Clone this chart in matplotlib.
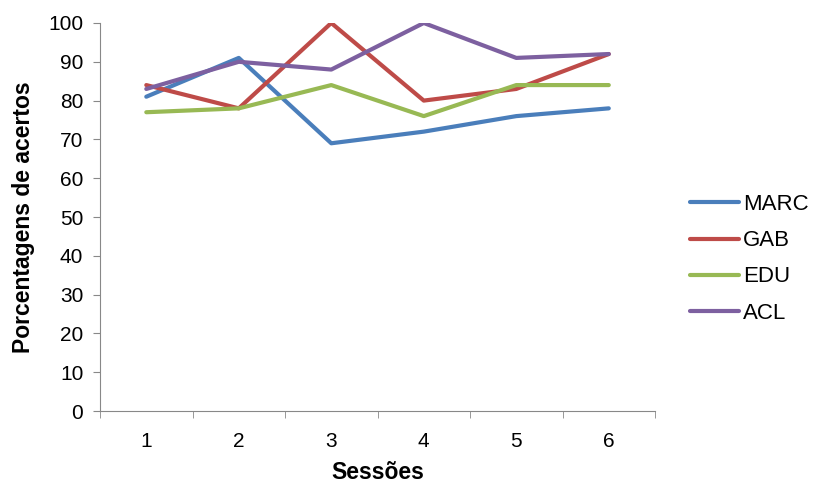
import matplotlib
matplotlib.use("Agg")
import matplotlib.pyplot as plt
from matplotlib.ticker import FixedLocator

plt.rcParams['font.family'] = ['Liberation Sans', 'DejaVu Sans']

sessions = [1, 2, 3, 4, 5, 6]
series_names = ["MARC", "GAB", "EDU", "ACL"]
marc = [81, 91, 69, 72, 76, 78]
gab = [84, 78, 100, 80, 83, 92]
edu = [77, 78, 84, 76, 84, 84]
acl = [83, 90, 88, 100, 91, 92]
colors = ["#4A7EBB", "#BE4B48", "#98B954", "#7D60A0"]
yticks = list(range(0, 101, 10))

fig = plt.figure(figsize=(8.14, 4.84), dpi=100)
ax = fig.add_axes([0.1229, 0.1508, 0.6818, 0.8017])

for name, vals, c in zip(series_names, [marc, gab, edu, acl], colors):
    ax.plot(sessions, vals, color=c, lw=3, label=name, solid_capstyle='round')

ax.set_xlim(0.5, 6.5)
ax.set_ylim(0, 100)
ax.set_yticks(yticks)
ax.set_xticks(sessions)
ax.xaxis.set_minor_locator(FixedLocator([0.5 + i for i in range(7)]))
ax.tick_params(axis='x', which='major', length=0, pad=15, labelsize=15)
ax.tick_params(axis='x', which='minor', length=5, color='#888888')
ax.tick_params(axis='y', length=5, color='#888888', labelsize=15, pad=7)

for s in ['top', 'right']:
    ax.spines[s].set_visible(False)
for s in ['left', 'bottom']:
    ax.spines[s].set_color('#888888')

ax.set_ylabel("Porcentagens de acertos", fontsize=16.5, fontweight='bold')
ax.yaxis.set_label_coords(-0.118, 0.5)
ax.set_xlabel("Sessões", fontsize=16.5, fontweight='bold')
ax.xaxis.set_label_coords(0.5, -0.128)

leg = ax.legend(loc='center left', bbox_to_anchor=(1.063, 0.392), frameon=False,
                fontsize=16, handlelength=2.2, labelspacing=0.68, handletextpad=0.18,
                borderpad=0, borderaxespad=0)

fig.savefig("out.png", dpi=100)
